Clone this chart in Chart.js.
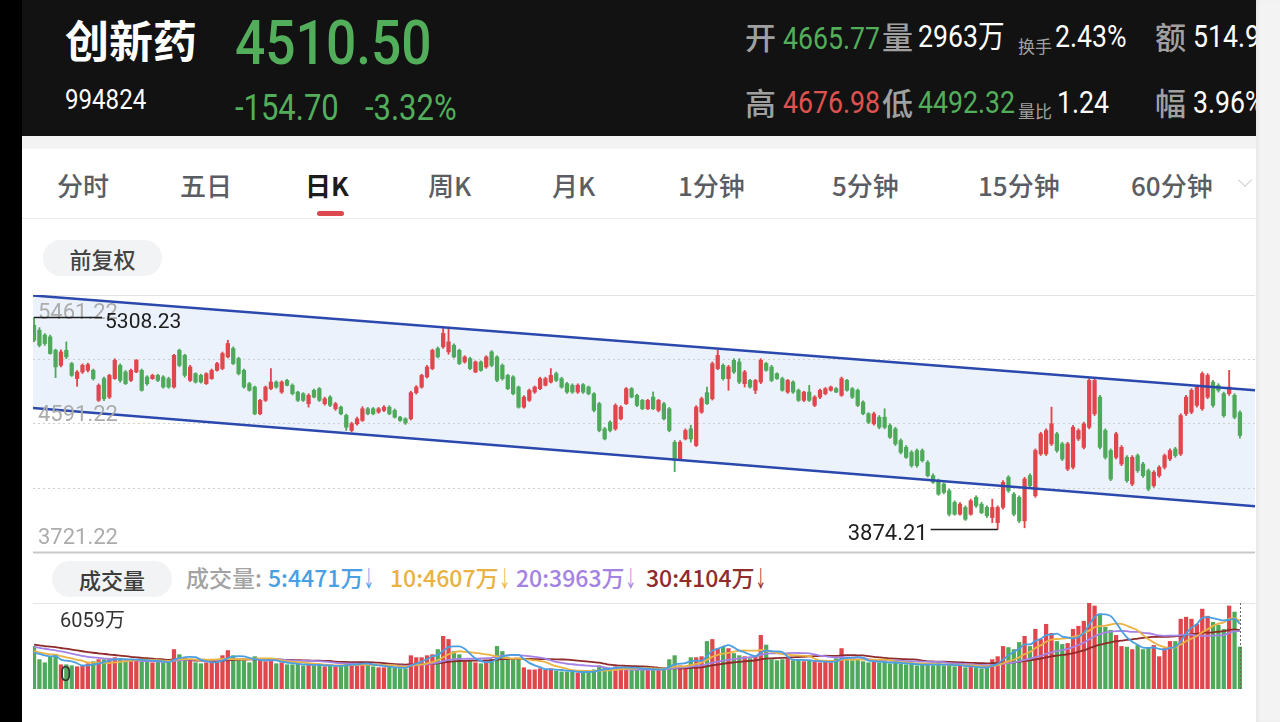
<!DOCTYPE html>
<html>
<head>
<meta charset="utf-8">
<script src="https://cdn.jsdelivr.net/npm/chart.js@4.4.1/dist/chart.umd.min.js"></script>
<style>
html, body { margin: 0; padding: 0; width: 1280px; height: 722px; overflow: hidden; background: #fff; font-family: "Noto Sans CJK SC", sans-serif; }
.abs { position: absolute; white-space: nowrap; line-height: 1; }
.num { font-family: Roboto, "Noto Sans CJK SC", sans-serif; transform: scaleX(0.86); transform-origin: left center; }
#leftbar { position: absolute; left: 0; top: 0; width: 22px; height: 722px; background: #000; }
#rightbar { position: absolute; left: 1256px; top: 0; width: 24px; height: 722px; background: #f3f3f3; box-shadow: inset 3px 0 4px -2px rgba(0,0,0,0.08); }
#header { position: absolute; left: 22px; top: 0; width: 1234px; height: 136px; background: #121212; overflow: hidden; }
#band { position: absolute; left: 22px; top: 136px; width: 1234px; height: 13px; background: #f3f3f3; }
.lbl { color: #a0a0a0; font-size: 31px; font-weight: 500; }
.val { font-size: 31px; }
.small { color: #a0a0a0; font-size: 17px; }
.green { color: #52ae5b; }
.red { color: #e0524f; }
.white { color: #fff; }
.tab { font-size: 26px; font-weight: 500; color: #5a5e64; top: 172px; }
.pill { position: absolute; background: #f2f3f5; border-radius: 18px; color: #444; font-size: 22px; font-weight: 500; text-align: center; }
.leg { top: 566px; font-size: 23px; font-weight: 500; }
.leg i { font-style: normal; display: inline-block; width: 8px; transform: scaleX(0.5); transform-origin: left center; font-weight: 400; }
#kwrap { position: absolute; left: 33px; top: 294px; width: 1222px; height: 260px; }
#vwrap { position: absolute; left: 33px; top: 602px; width: 1222px; height: 90px; }
</style>
</head>
<body>
<div id="leftbar"></div>
<div id="header">
  <div class="abs white" style="left:43px;top:17px;font-size:44px;font-weight:700;">创新药</div>
  <div class="abs num green" style="left:213px;top:12px;font-size:62px;font-weight:500;">4510.50</div>
  <div class="abs num white" style="left:43px;top:86px;font-size:28px;">994824</div>
  <div class="abs num green" style="left:213px;top:90px;font-size:36px;">-154.70</div>
  <div class="abs num green" style="left:343px;top:90px;font-size:36px;">-3.32%</div>

  <div class="abs lbl" style="left:723px;top:20px;">开</div>
  <div class="abs num val green" style="left:761px;top:23px;">4665.77</div>
  <div class="abs lbl" style="left:860px;top:20px;">量</div>
  <div class="abs num val white" style="left:896px;top:21px;">2963万</div>
  <div class="abs small" style="left:996px;top:37px;">换手</div>
  <div class="abs num val white" style="left:1033px;top:21px;">2.43%</div>
  <div class="abs lbl" style="left:1133px;top:20px;">额</div>
  <div class="abs num val white" style="left:1171px;top:21px;">514.9亿</div>

  <div class="abs lbl" style="left:723px;top:86px;">高</div>
  <div class="abs num val red" style="left:761px;top:87px;">4676.98</div>
  <div class="abs lbl" style="left:860px;top:86px;">低</div>
  <div class="abs num val green" style="left:896px;top:87px;">4492.32</div>
  <div class="abs small" style="left:996px;top:102px;">量比</div>
  <div class="abs num val white" style="left:1035px;top:87px;">1.24</div>
  <div class="abs lbl" style="left:1133px;top:86px;">幅</div>
  <div class="abs num val white" style="left:1171px;top:87px;">3.96%</div>
</div>
<div id="band"></div>

<div class="abs tab" style="left:57px;">分时</div>
<div class="abs tab" style="left:180px;">五日</div>
<div class="abs tab" style="left:305px;color:#1c1c1c;font-weight:700;">日K</div>
<div class="abs tab" style="left:428px;">周K</div>
<div class="abs tab" style="left:552px;">月K</div>
<div class="abs tab" style="left:678px;">1分钟</div>
<div class="abs tab" style="left:832px;">5分钟</div>
<div class="abs tab" style="left:978px;">15分钟</div>
<div class="abs tab" style="left:1131px;">60分钟</div>
<div style="position:absolute;left:1240px;top:175px;width:9px;height:9px;border-right:1.5px solid #cfcfcf;border-bottom:1.5px solid #cfcfcf;transform:rotate(45deg);"></div>
<div style="position:absolute;left:317px;top:211px;width:27px;height:5px;background:#dc4a4f;border-radius:3px;"></div>
<div style="position:absolute;left:22px;top:218px;width:1234px;height:1px;background:#ededed;"></div>

<div class="pill" style="left:43px;top:240px;width:119px;height:36px;line-height:36px;">前复权</div>

<div id="kwrap"><canvas id="kChart"></canvas></div>

<div class="pill" style="left:52px;top:561px;width:120px;height:36px;line-height:36px;color:#3c3c3c;">成交量</div>
<div class="abs leg" style="left:186px;color:#a3a3a3;">成交量:</div>
<div class="abs leg" style="left:268px;color:#4a9fe3;">5:4471万<i>↓</i></div>
<div class="abs leg" style="left:390px;color:#e9b242;">10:4607万<i>↓</i></div>
<div class="abs leg" style="left:516px;color:#a482e4;">20:3963万<i>↓</i></div>
<div class="abs leg" style="left:646px;color:#8f2c2c;">30:4104万<i>↓</i></div>

<div id="vwrap"><canvas id="vChart"></canvas></div>
<div id="rightbar"></div>

<script>
// daily K-line, 225 sessions (price points)
const opens = [
  5257,5223,5190,5178,5087,4985,5087,4997,4895,4940,4951,4951,4748,4895,4770,
  4895,4985,4940,4883,4940,4951,4906,4895,4917,4906,4895,4838,5087,5053,4883,
  4929,4917,4861,4895,4951,4963,5042,5099,5031,4951,4861,4838,4657,4748,4827,
  4872,4804,4883,4850,4804,4793,4725,4816,4827,4725,4770,4691,4702,4646,4544,
  4589,4612,4691,4691,4668,4680,4702,4680,4634,4623,4623,4800,4838,4906,4963,
  5099,5110,5076,5121,5087,5008,5031,4940,5008,4974,5076,5042,4985,4917,4906,
  4838,4702,4748,4804,4827,4850,4872,4929,4895,4861,4850,4804,4854,4838,4793,
  4725,4555,4600,4555,4623,4725,4827,4782,4748,4691,4770,4680,4725,4691,4464,
  4351,4487,4555,4442,4668,4800,4759,4963,4985,4895,5019,5008,4861,4883,4816,
  4872,4997,4974,4929,4895,4804,4872,4816,4748,4804,4714,4770,4793,4816,4827,
  4782,4883,4827,4816,4736,4657,4589,4634,4634,4578,4555,4476,4430,4396,4408,
  4408,4328,4238,4204,4181,4136,4057,3977,4023,3977,4091,4045,4023,3954,3920,
  4023,4227,4113,4091,3932,4238,4102,4385,4385,4453,4521,4453,4283,4295,4487,
  4430,4566,4657,4770,4544,4408,4362,4317,4362,4181,4374,4317,4272,4170,4238,
  4295,4351,4419,4385,4657,4668,4714,4691,4770,4872,4850,4793,4793,4782,4665.77
];
const highs = [
  5308.23,5240,5200,5190,5095,5090,5144,5005,4950,4995,5000,4960,4860,4905,4925,
  5030,4995,4950,4960,5025,4960,4915,4925,4925,4915,4905,5060,5095,5060,4985,
  4935,4925,4935,4960,5005,5075,5155,5110,5040,4960,4870,4845,4755,4845,4963,
  4880,4880,4890,4860,4810,4800,4793,4825,4835,4770,4780,4735,4710,4655,4600,
  4635,4705,4700,4700,4700,4712,4712,4690,4640,4630,4810,4848,4925,4985,5095,
  5110,5235,5244,5130,5095,5050,5040,5015,5015,5050,5085,5050,4995,4925,4915,
  4845,4780,4825,4845,4905,4905,4963,4940,4905,4870,4860,4860,4862,4845,4800,
  4735,4565,4610,4725,4712,4835,4835,4790,4755,4755,4805,4755,4735,4700,4476,
  4476,4555,4580,4712,4770,4838,5008,5087,4995,4985,5030,5030,4951,4890,4890,
  5030,5005,4985,4935,4905,4890,4880,4825,4810,4850,4780,4825,4835,4845,4835,
  4906,4890,4835,4825,4745,4665,4668,4645,4691,4589,4566,4487,4442,4408,4419,
  4419,4340,4250,4215,4190,4147,4068,4055,4034,4079,4102,4057,4034,4079,4034,
  4204,4238,4125,4102,4227,4250,4419,4532,4555,4702,4532,4464,4464,4578,4555,
  4600,4895,4895,4782,4555,4419,4532,4442,4374,4374,4385,4328,4283,4272,4306,
  4385,4419,4430,4657,4782,4827,4850,4940,4929,4883,4861,4804,4951,4793,4676.98
];
const lows = [
  5145,5110,5120,5060,4902,4975,5030,4910,4843,4930,4940,4885,4740,4745,4760,
  4890,4870,4855,4875,4935,4810,4850,4890,4875,4830,4830,4830,4975,4905,4875,
  4865,4865,4855,4890,4945,4955,5035,4990,4920,4830,4810,4650,4650,4740,4820,
  4830,4795,4845,4785,4740,4740,4702,4765,4740,4715,4705,4680,4650,4544,4535,
  4580,4605,4650,4650,4660,4672,4650,4628,4605,4585,4615,4790,4830,4900,4955,
  5035,5100,5060,5035,4990,5000,4955,4935,4945,4965,4975,4875,4885,4820,4785,
  4695,4695,4740,4795,4820,4845,4865,4875,4830,4795,4795,4795,4795,4785,4670,
  4535,4480,4535,4545,4615,4720,4765,4705,4685,4685,4685,4670,4615,4535,4265,
  4340,4480,4465,4435,4660,4720,4750,4955,4885,4816,4930,4861,4838,4830,4793,
  4861,4945,4875,4890,4810,4795,4795,4740,4740,4740,4705,4760,4785,4810,4800,
  4775,4810,4760,4705,4650,4590,4580,4555,4555,4490,4442,4385,4355,4295,4295,
  4330,4230,4185,4105,4115,3965,3970,3970,3935,3970,4023,3980,3955,3920,3874.21,
  4011,4125,3966,3920,3885,4160,4091,4375,4375,4442,4396,4340,4272,4283,4476,
  4419,4555,4645,4419,4351,4204,4351,4306,4193,4170,4260,4227,4136,4159,4227,
  4283,4340,4362,4374,4645,4657,4702,4680,4759,4702,4804,4634,4782,4623,4492.32
];
const closes = [
  5155,5121,5133,5065,4974,5076,5042,4917,4940,4985,4990,4895,4850,4759,4917,
  5019,4883,4861,4951,5019,4816,4861,4917,4883,4838,4838,5053,4985,4917,4974,
  4872,4872,4929,4951,4997,5065,5133,4997,4929,4838,4816,4657,4748,4838,4872,
  4838,4872,4850,4793,4748,4748,4782,4770,4748,4759,4714,4725,4657,4566,4589,
  4623,4691,4657,4657,4691,4702,4657,4634,4612,4595,4800,4838,4917,4974,5087,
  5042,5201,5144,5042,4997,5042,4963,5008,4951,5042,4985,4883,4895,4827,4793,
  4702,4770,4816,4838,4895,4895,4917,4883,4838,4804,4804,4850,4804,4793,4680,
  4544,4487,4544,4714,4702,4827,4770,4714,4691,4748,4691,4748,4623,4544,4340,
  4464,4544,4487,4702,4759,4725,4997,5053,4895,4974,4940,4872,4940,4838,4883,
  5019,4951,4883,4895,4816,4883,4804,4748,4804,4748,4770,4816,4827,4838,4804,
  4895,4816,4770,4714,4657,4600,4657,4566,4566,4498,4453,4396,4362,4306,4306,
  4340,4238,4193,4113,4125,3977,3977,4045,3943,4068,4034,3988,3966,4023,4023,
  4193,4136,3977,3932,4215,4170,4408,4521,4544,4589,4408,4351,4453,4566,4544,
  4589,4883,4883,4430,4362,4215,4521,4430,4204,4362,4272,4238,4147,4261,4295,
  4374,4408,4374,4645,4770,4816,4838,4929,4917,4714,4816,4645,4838,4634,4510.5
];
// volume in 万 shares
const volumes = [
  3000,2070,1850,2280,2420,1710,1710,1640,1570,1640,1780,1930,2070,2070,2140,
  2210,2070,2000,2000,2070,2140,1930,1850,1930,1850,1930,2780,2420,2210,2000,
  1850,1780,1850,1930,2070,2350,2710,2350,2070,2000,1850,2280,2000,1930,2070,
  1780,1850,1710,1710,1780,1640,1710,1640,1710,1570,1640,1570,1640,1930,1780,
  1710,1850,1710,1570,1500,1500,1570,1500,1430,1430,2350,2210,2210,2350,2420,
  2780,3710,3490,2640,2420,1930,1930,1850,1780,1930,2070,3000,2640,2210,2070,
  2070,1500,1350,1350,1430,1350,1430,1280,1210,1210,1210,1140,1210,1210,1350,
  1640,1500,1430,1570,1500,1570,1430,1430,1350,1350,1430,1350,1500,2070,2350,
  1640,1570,2210,2210,2280,3350,3490,2850,2950,2850,2500,2350,2280,2140,2280,
  3780,3100,2070,2000,2070,2140,2000,2070,1930,2000,1930,1850,1930,1850,2140,
  2850,2140,2000,2070,1930,1850,1930,1850,1930,1780,1850,1780,1710,1780,1640,
  1710,1780,1640,1850,1640,1710,1570,1640,1500,1570,1500,1430,1570,2070,2280,
  3000,2920,2780,3280,3710,3000,4210,3490,4560,3920,3350,3140,3210,4210,4420,
  4780,6059,5850,5280,4350,4140,3780,3000,2950,2780,3070,2780,2920,3070,2280,
  2850,3350,3350,4920,5060,4920,4560,5630,5130,4700,4500,4200,5850,5420,2963
];
// sessions before the visible window, only used to seed the volume averages
const prevVolumes = [
  3600,3500,3300,3700,3400,3200,3500,3300,3400,3600,
  3300,3200,3500,3400,3100,3300,3200,3400,3100,3200,
  2800,2700,2900,2600,2800,2500,2400,2600,2300
];
const priceTicks = [5461.22, 5026.22, 4591.22, 4156.22, 3721.22];
const priceLabels = ['5461.22', '4591.22', '3721.22'];
const channelUpper = [5457.8, 4815.5];
const channelLower = [4696.6, 4030.4];
const volumeMax = 6059;
const maPeriods = [5, 10, 20, 30];

const RED = '#e0474c';
const GREEN = '#4fa95a';
const MA_COLORS = ['#4a9fe3', '#eab343', '#a583e6', '#8e2a2a'];
const X_MIN = -0.19, X_MAX = 226.8;

const candleColors = closes.map((c, i) => c >= opens[i] ? RED : GREEN);
const wickData = highs.map((h, i) => ({x: i, y: [lows[i], h]}));
const bodyData = opens.map((o, i) => ({x: i, y: [o, closes[i]]}));

const kGrid = {
    id: 'kGrid',
    beforeDatasetsDraw(chart) {
        const {ctx, chartArea: a, scales: {y}} = chart;
        ctx.save();
        priceTicks.forEach((v, k) => {
            const py = Math.round(y.getPixelForValue(v));
            const top = k === 0, bottom = k === priceTicks.length - 1;
            ctx.beginPath();
            if (top || bottom) {
                ctx.setLineDash([]);
                ctx.strokeStyle = bottom ? '#c9c9c9' : '#e2e2e2';
                ctx.lineWidth = bottom ? 2 : 1.2;
            } else {
                ctx.setLineDash([2, 3]);
                ctx.strokeStyle = '#cfcfcf';
                ctx.lineWidth = 1;
            }
            ctx.moveTo(a.left, py + 0.5);
            ctx.lineTo(a.right, py + 0.5);
            ctx.stroke();
        });
        ctx.restore();
    },
    afterDatasetsDraw(chart) {
        const {ctx, scales: {x, y}} = chart;
        ctx.save();
        ctx.font = '22px Roboto';
        ctx.fillStyle = '#acacac';
        ctx.textBaseline = 'middle';
        ctx.textAlign = 'left';
        const offs = [18, -8, -14];
        priceLabels.forEach((t, k) => {
            ctx.fillText(t, 5, y.getPixelForValue(parseFloat(t)) + offs[k]);
        });

        // highest and lowest marks
        let hi = 0, lo = 0;
        highs.forEach((h, i) => { if (h > highs[hi]) hi = i; });
        lows.forEach((l, i) => { if (l < lows[lo]) lo = i; });
        ctx.strokeStyle = '#1d1d1d';
        ctx.lineWidth = 1.5;
        ctx.fillStyle = '#1d1d1d';
        ctx.font = '21px Roboto';

        const hx = x.getPixelForValue(hi), hy = y.getPixelForValue(highs[hi]);
        ctx.beginPath();
        ctx.moveTo(hx, hy);
        ctx.lineTo(hx + 68, hy);
        ctx.stroke();
        ctx.fillText(highs[hi].toFixed(2), hx + 71, hy + 5);

        const lx = x.getPixelForValue(lo), ly = y.getPixelForValue(lows[lo]);
        ctx.beginPath();
        ctx.moveTo(lx, ly);
        ctx.lineTo(lx - 67, ly);
        ctx.stroke();
        ctx.textAlign = 'right';
        ctx.font = '22px Roboto';
        ctx.fillText(lows[lo].toFixed(2), lx - 70, ly + 5);
        ctx.restore();
    }
};

new Chart(document.getElementById('kChart'), {
    type: 'bar',
    data: {
        datasets: [
            {
                type: 'line',
                data: [{x: X_MIN, y: channelUpper[0]}, {x: X_MAX, y: channelUpper[1]}],
                borderColor: '#2b48ad',
                borderWidth: 2.5,
                pointRadius: 0,
                fill: '+1',
                backgroundColor: 'rgba(222, 233, 250, 0.6)',
                order: 0
            },
            {
                type: 'line',
                data: [{x: X_MIN, y: channelLower[0]}, {x: X_MAX, y: channelLower[1]}],
                borderColor: '#2b48ad',
                borderWidth: 2.5,
                pointRadius: 0,
                fill: false,
                order: 0
            },
            {
                data: wickData,
                backgroundColor: candleColors,
                barThickness: 1.2,
                grouped: false,
                order: 2
            },
            {
                data: bodyData,
                backgroundColor: candleColors,
                barThickness: 3.6,
                grouped: false,
                order: 1
            }
        ]
    },
    options: {
        responsive: true,
        maintainAspectRatio: false,
        animation: false,
        events: [],
        layout: { padding: { top: 1, bottom: 2, left: 0, right: 0 } },
        scales: {
            x: { type: 'linear', min: X_MIN, max: X_MAX, offset: false, display: false },
            y: { type: 'linear', min: priceTicks[priceTicks.length - 1], max: priceTicks[0], display: false }
        },
        plugins: {
            legend: { display: false },
            tooltip: { enabled: false },
            filler: { drawTime: 'beforeDatasetsDraw' }
        }
    },
    plugins: [kGrid]
});

// volume moving averages
const allVol = prevVolumes.concat(volumes);
const maSeries = maPeriods.map(n => volumes.map((v, i) => {
    const end = i + prevVolumes.length;
    let s = 0;
    for (let k = end - n + 1; k <= end; k++) s += allVol[k];
    return {x: i, y: s / n};
}));

const vGrid = {
    id: 'vGrid',
    beforeDatasetsDraw(chart) {
        const {ctx, chartArea: a} = chart;
        ctx.save();
        ctx.strokeStyle = '#e4e4e4';
        ctx.lineWidth = 1.2;
        ctx.beginPath();
        ctx.moveTo(a.left, Math.round(a.top) + 0.5);
        ctx.lineTo(a.right, Math.round(a.top) + 0.5);
        ctx.stroke();
        ctx.restore();
    },
    afterDatasetsDraw(chart) {
        const {ctx, scales: {x, y}} = chart;
        ctx.save();
        ctx.fillStyle = '#333';
        ctx.font = '20px Roboto, "Noto Sans CJK SC"';
        ctx.textBaseline = 'middle';
        ctx.fillText(volumeMax + '万', 27, y.getPixelForValue(volumeMax) + 19);
        ctx.fillText('0', 27, y.getPixelForValue(0) - 13);
        // current session marker
        const cx = Math.round(x.getPixelForValue(volumes.length - 1)) + 0.5;
        ctx.strokeStyle = '#666';
        ctx.lineWidth = 1;
        ctx.setLineDash([2, 2]);
        ctx.beginPath();
        ctx.moveTo(cx, y.getPixelForValue(volumeMax));
        ctx.lineTo(cx, y.getPixelForValue(0));
        ctx.stroke();
        ctx.restore();
    }
};

new Chart(document.getElementById('vChart'), {
    type: 'bar',
    data: {
        datasets: maSeries.map((d, k) => ({
            type: 'line',
            data: d,
            borderColor: MA_COLORS[k],
            borderWidth: 1.8,
            pointRadius: 0,
            cubicInterpolationMode: 'monotone',
            order: 0
        })).concat([{
            data: volumes.map((v, i) => ({x: i, y: v})),
            backgroundColor: candleColors,
            barThickness: 3.6,
            grouped: false,
            order: 1
        }])
    },
    options: {
        responsive: true,
        maintainAspectRatio: false,
        animation: false,
        events: [],
        layout: { padding: { top: 1, bottom: 3, left: 0, right: 0 } },
        scales: {
            x: { type: 'linear', min: X_MIN, max: X_MAX, offset: false, display: false },
            y: { type: 'linear', min: 0, max: volumeMax, display: false }
        },
        plugins: {
            legend: { display: false },
            tooltip: { enabled: false }
        }
    },
    plugins: [vGrid]
});
</script>
</body>
</html>
